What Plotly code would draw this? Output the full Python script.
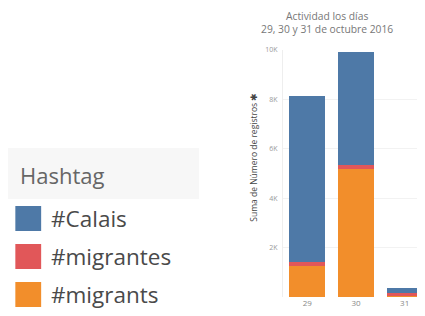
import plotly.graph_objects as go

days = ["29", "30", "31"]
series_names = ["#Calais", "#migrantes", "#migrants"]
calais = [6720, 4570, 210]
migrantes = [160, 170, 120]
migrants = [1270, 5180, 40]
colors = ["#4e79a7", "#e15759", "#f28e2b"]
y_ticks = [2000, 4000, 6000, 8000, 10000]
y_tick_text = ["2K", "4K", "6K", "8K", "10K"]

# page offset of the figure (default body margin)
OFF = 8
W, H = 425, 316 - OFF
# plot area in page pixels
PL, PR, PT, PB = 282.5, 429.5, 50, 297
L = PL - OFF
R = W - (PR - OFF)
T = PT - OFF
B = H - (PB - OFF)
pw = W - L - R
ph = H - T - B

fig = go.Figure()
for name, vals, col in [(series_names[2], migrants, colors[2]),
                        (series_names[1], migrantes, colors[1]),
                        (series_names[0], calais, colors[0])]:
    fig.add_trace(go.Bar(x=days, y=vals, name=name, marker=dict(color=col, line=dict(width=0)),
                         showlegend=False))

fig.update_layout(
    barmode="stack", bargap=0.265,
    width=W, height=H,
    margin=dict(l=L, r=R, t=T, b=B, pad=0, autoexpand=False),
    paper_bgcolor="white", plot_bgcolor="white",
    font=dict(family="Open Sans", color="#888"),
    xaxis=dict(showgrid=False, showline=False, ticks="", tickfont=dict(size=8, color="#888"),
               automargin=False),
    yaxis=dict(range=[0, 10000], tickvals=y_ticks, ticktext=y_tick_text,
               showgrid=True, gridcolor="#f2f2f2", gridwidth=1, zeroline=False,
               showline=True, linecolor="#eeeeee", ticks="", ticklabelstandoff=3,
               tickfont=dict(size=7, color="#999"), automargin=False),
)

def px_x(p):
    return (p - OFF - L) / pw

def px_y(p):
    return 1 - (p - OFF - T) / ph

fig.add_annotation(text="Actividad los días<br>29, 30 y 31 de octubre 2016",
                   xref="paper", yref="paper", x=px_x(327), y=px_y(22.5), xanchor="center", yanchor="middle",
                   showarrow=False, align="center", borderpad=0, font=dict(size=10.3, color="#777"))
fig.add_annotation(text="Suma de Número de registros ✱", textangle=-90,
                   xref="paper", yref="paper", x=px_x(252), y=px_y(157), xanchor="center", yanchor="middle",
                   showarrow=False, font=dict(size=8.5, color="#444"))

fig.add_shape(type="rect", xref="paper", yref="paper", x0=px_x(0), x1=px_x(198), y0=px_y(148), y1=px_y(199),
              fillcolor="#f7f7f7", line=dict(width=0), layer="below")
fig.add_annotation(text="Hashtag", xref="paper", yref="paper", x=px_x(16), y=px_y(175),
                   xanchor="left", yanchor="middle", showarrow=False,
                   font=dict(family="Open Sans", size=22, color="#666"))
legend_tops = [206, 244, 282]
for name, col, top in zip(series_names, colors, legend_tops):
    fig.add_shape(type="rect", xref="paper", yref="paper", x0=px_x(13), x1=px_x(39),
                  y0=px_y(top + 25), y1=px_y(top), fillcolor=col, line=dict(width=0))
    fig.add_annotation(text=name, xref="paper", yref="paper", x=px_x(47), y=px_y(top + 12.5),
                       xanchor="left", yanchor="middle", showarrow=False,
                       font=dict(family="Open Sans", size=22.5, color="#4a4a4a"))

fig.write_html("out.html")
